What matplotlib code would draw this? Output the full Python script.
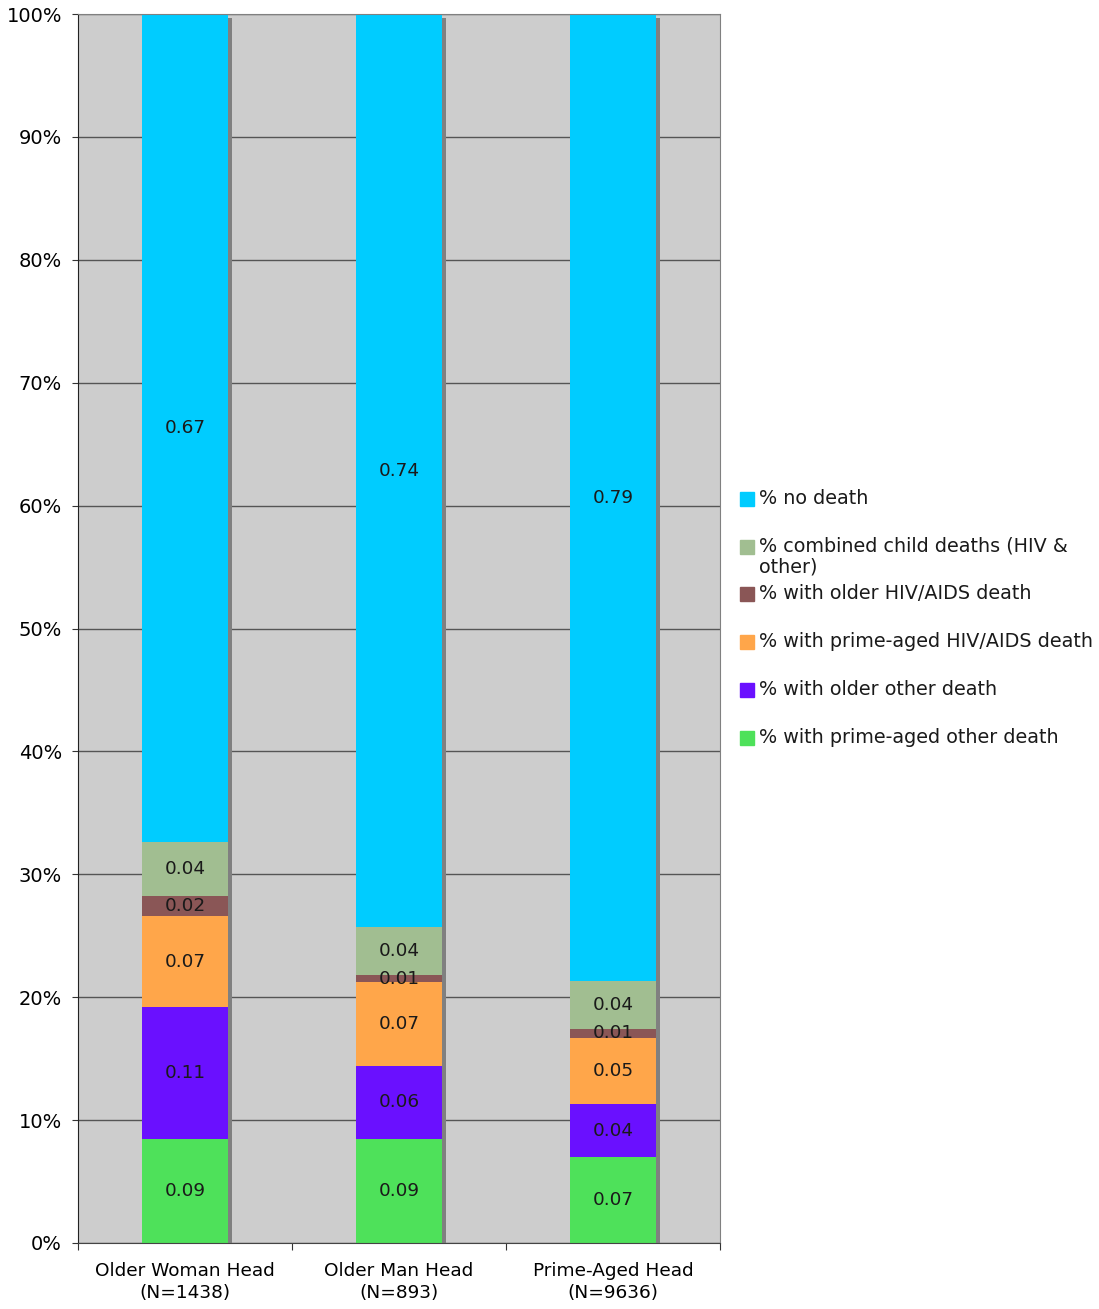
import matplotlib
matplotlib.use("Agg")
import matplotlib.pyplot as plt
from matplotlib.patches import Rectangle
import numpy as np

plt.rcParams['font.family'] = ['DejaVu Sans']

categories = ["Older Woman Head\n(N=1438)", "Older Man Head\n(N=893)", "Prime-Aged Head\n(N=9636)"]
series_names = [
    "% with prime-aged other death",
    "% with older other death",
    "% with prime-aged HIV/AIDS death",
    "% with older HIV/AIDS death",
    "% combined child deaths (HIV &\nother)",
    "% no death",
]
prime_other = [0.085, 0.085, 0.070]
older_other = [0.107, 0.059, 0.043]
prime_hiv = [0.074, 0.068, 0.054]
older_hiv = [0.016, 0.006, 0.007]
child = [0.044, 0.039, 0.039]
no_death = [0.674, 0.743, 0.787]
series = [prime_other, older_other, prime_hiv, older_hiv, child, no_death]
colors = ["#4EE15A", "#6A10FF", "#FFA64A", "#8A5656", "#A1BE91", "#00CCFF"]

W, H = 1099, 1309
fig = plt.figure(figsize=(W / 100, H / 100), dpi=100)
ax = fig.add_axes([78 / W, 1 - 1243 / H, (720 - 78) / W, (1243 - 14) / H])
ax.set_facecolor("#CDCDCD")

x = np.arange(len(categories))
width = 0.40
# shadow
ax.bar(x + 0.019, np.ones(len(x)) - 0.003, width=width, color="#808080", zorder=1)
bottom = np.zeros(len(x))
for vals, col in zip(series, colors):
    vals = np.array(vals)
    ax.bar(x, vals, width=width, bottom=bottom, color=col, zorder=2)
    for xi, b, v in zip(x, bottom, vals):
        ax.text(xi, b + v / 2, f"{v:.2f}", ha="center", va="center",
                fontsize=13.3, color="#1a1a1a", zorder=3)
    bottom += vals

ax.set_xlim(-0.5, 2.5)
ax.set_ylim(0, 1)
ax.set_yticks(np.arange(0, 1.01, 0.1))
ax.set_yticklabels([f"{int(round(t * 100))}%" for t in np.arange(0, 1.01, 0.1)], fontsize=14)
ax.yaxis.grid(True, color="#555555", linewidth=1.0, zorder=0)
ax.set_axisbelow(True)
ax.set_xticks([-0.5, 0.5, 1.5, 2.5])
ax.set_xticklabels([])
ax.set_xticks(x, minor=True)
ax.set_xticklabels(categories, minor=True, fontsize=13.3)
ax.tick_params(axis="x", which="minor", length=0, pad=14)
ax.tick_params(axis="x", which="major", length=5, color="#333333")
ax.tick_params(axis="y", length=4.5, color="#333333", pad=7)
for t in ax.get_xticklabels(minor=True):
    t.set_linespacing(1.25)
ax.spines["left"].set_color("#222222")
ax.spines["bottom"].set_color("#444444")
ax.spines["top"].set_color("#808080")
ax.spines["right"].set_color("#808080")

# legend (drawn manually)
legend_order = list(reversed(range(len(series_names))))
legend_y = [499, 547, 594, 642, 690, 738]
for yy, idx in zip(legend_y, legend_order):
    fig.patches.append(Rectangle((740 / W, 1 - (yy + 7) / H), 14 / W, 14 / H,
                                 transform=fig.transFigure, color=colors[idx]))
    fig.text(759 / W, 1 - (yy - 10) / H, series_names[idx], fontsize=13.8,
             va="top", ha="left", color="#1a1a1a", linespacing=1.1)

fig.savefig("out.png", dpi=100)
